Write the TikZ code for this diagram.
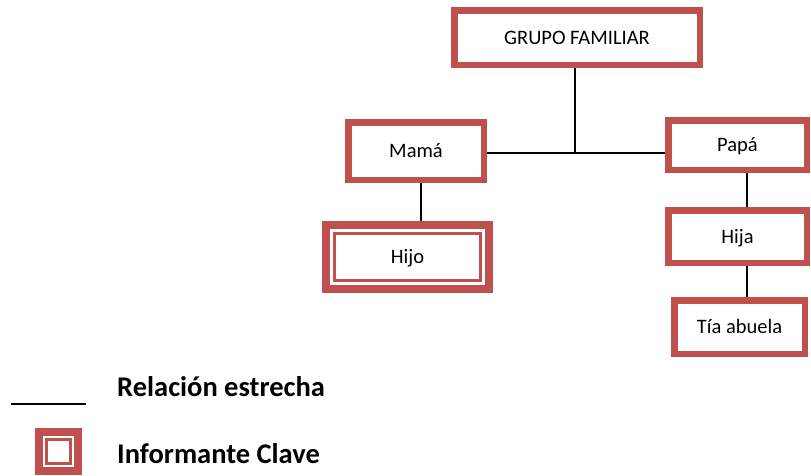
\documentclass[tikz,border=0pt]{standalone}
\usepackage{fontspec}
\setmainfont{Carlito}
\usepackage{xcolor}
\definecolor{boxred}{HTML}{C0504D}
\usetikzlibrary{positioning}

\begin{document}
\begin{tikzpicture}[x=1pt, y=-1pt,
				member/.style={draw=boxred, line width=6.5pt, fill=white, inner sep=0pt,
					text height=13.2pt, text depth=0pt, font=\fontsize{20.5}{24}\selectfont},
				keybox/.style={member, line width=8pt},
				inner line/.style={draw=boxred, line width=3pt},
				link/.style={black, line width=1.8pt},
				legend/.style={anchor=base west, inner sep=0pt, font=\fontsize{28.5}{34}\selectfont\bfseries}]
				\useasboundingbox (0,0) rectangle (811,475);
				\node at (577,37.5) (gf) [member, minimum width=245.5pt, minimum height=54.5pt] {GRUPO FAMILIAR};
				\node at (416,151) (mama) [member, minimum width=135.5pt, minimum height=57.5pt] {Mamá};
				\node at (737.5,145) (papa) [member, minimum width=138.5pt, minimum height=49.5pt] {Papá};
				\node at (737.5,236.5) (hija) [member, minimum width=138.5pt, minimum height=52.5pt] {Hija};
				\node at (739.5,327) (tia) [member, minimum width=130.5pt, minimum height=53.5pt] {Tía abuela};
				\node at (407.5,257) (hijo) [keybox, minimum width=163pt, minimum height=64pt] {Hijo};
				\draw [inner line] ([shift={(12.5,12.5)}]hijo.north west) rectangle ([shift={(-12.5,-12.5)}]hijo.south east);
				\coordinate (jn) at (575,153);
				\draw [link] (gf.south -| jn) -- (jn);
				\draw [link] (mama.east |- jn) -- (papa.west |- jn);
				\draw [link] ([xshift=5pt]mama.south) -- ([xshift=5pt]mama.south |- hijo.north);
				\draw [link] ([xshift=9.5pt]papa.south) -- ([xshift=9.5pt]papa.south |- hija.north);
				\draw [link] ([xshift=9.5pt]hija.south) -- ([xshift=9.5pt]hija.south |- tia.north);
				\coordinate (rel start) at (11,404);
				\coordinate (rel end) at (86,404);
				\draw [black, line width=2pt] (rel start) -- (rel end);
				\node at (117,396) (reltext) [legend] {Relación estrecha};
				\node at (58.5,451.5) (key) [keybox, minimum width=39pt, minimum height=39pt] {};
				\draw [inner line] ([shift={(11.5,11.5)}]key.north west) rectangle ([shift={(-11.5,-11.5)}]key.south east);
				\node at (117,463) (keytext) [legend] {Informante Clave};
			\end{tikzpicture}
\end{document}
